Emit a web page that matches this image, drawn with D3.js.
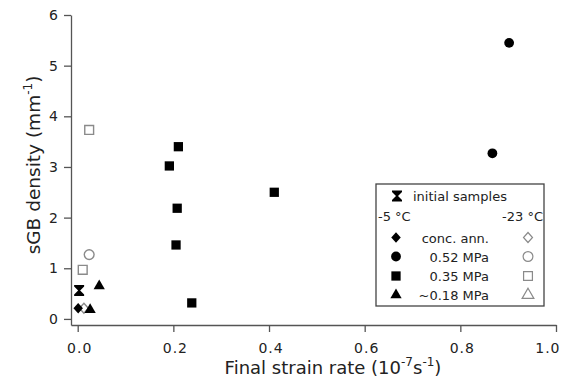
<!DOCTYPE html>
<html><head><meta charset="utf-8">
<script src="https://cdn.jsdelivr.net/npm/d3@7"></script>
<style>body{margin:0;background:#fff}svg{display:block}text{font-family:"DejaVu Sans",sans-serif;fill:#222}</style>
</head><body><svg id="c" width="567" height="381"></svg>
<script>
// data
const xTicks = [0.0, 0.2, 0.4, 0.6, 0.8, 1.0];
const yTicks = [0, 1, 2, 3, 4, 5, 6];
const initialX = [0.003], initialY = [0.56];
const concAnnWarmX = [0.001], concAnnWarmY = [0.21];
const concAnnColdX = [0.013], concAnnColdY = [0.21];
const mpa052WarmX = [0.902, 0.867], mpa052WarmY = [5.45, 3.27];
const mpa052ColdX = [0.024], mpa052ColdY = [1.27];
const mpa035WarmX = [0.2105, 0.1916, 0.411, 0.208, 0.2056, 0.2385];
const mpa035WarmY = [3.40, 3.02, 2.50, 2.185, 1.46, 0.316];
const mpa035ColdX = [0.024, 0.0105], mpa035ColdY = [3.73, 0.97];
const mpa018WarmX = [0.026, 0.045], mpa018WarmY = [0.18, 0.65];
const legendLabels = ["conc. ann.", "0.52 MPa", "0.35 MPa", "~0.18 MPa"];

const svg = d3.select("#c");
const x = d3.scaleLinear().domain([-0.014, 1.0]).range([71, 556]);
const y = d3.scaleLinear().domain([-0.12, 6]).range([325, 15]);
const axisColor = "#555";

const gx = svg.append("g").attr("transform", "translate(0,325)")
  .call(d3.axisBottom(x).tickValues(xTicks).tickFormat(d3.format(".1f")).tickSize(7).tickSizeOuter(0).tickPadding(11));
const gy = svg.append("g").attr("transform", "translate(71,0)")
  .call(d3.axisLeft(y).tickValues(yTicks).tickFormat(d3.format("d")).tickSize(7).tickSizeOuter(0).tickPadding(6));
[gx, gy].forEach(g => {
  g.selectAll("path,line").attr("stroke", axisColor).attr("stroke-width", 1.3);
  g.selectAll("text").attr("font-size", 14).attr("font-family", "DejaVu Sans").attr("fill", "#333");
});
gx.selectAll("text").attr("letter-spacing", 1).attr("dx", 1.5);
gx.selectAll(".tick").filter(d => d === 1.0).select("text").attr("text-anchor", "end").attr("dx", 4);

// axis titles
const xt = svg.append("text").attr("x", 333).attr("y", 374).attr("text-anchor", "middle").attr("font-size", 18);
xt.append("tspan").text("Final strain rate (10");
xt.append("tspan").attr("dy", -8).attr("font-size", 12).text("-7");
xt.append("tspan").attr("dy", 8).text("s");
xt.append("tspan").attr("dy", -8).attr("font-size", 12).text("-1");
xt.append("tspan").attr("dy", 8).text(")");

const yt = svg.append("text").attr("transform", "translate(40,165) rotate(-90)").attr("text-anchor", "middle").attr("font-size", 18.5);
yt.append("tspan").text("sGB density (mm");
yt.append("tspan").attr("dy", -8).attr("font-size", 12).text("-1");
yt.append("tspan").attr("dy", 8).text(")");

// symbols
function hourglass(s) {
  const w = s * 0.5, h = s * 0.55;
  return `M${-w},${-h}H${w}V${-h+1.5}L1,0L${w},${h-1.5}V${h}H${-w}V${h-1.5}L-1,0L${-w},${-h+1.5}Z`;
}
function diamondPath(w, h) {
  return `M0,${-h/2}L${w/2},0L0,${h/2}L${-w/2},0Z`;
}
const sym = {
  diamond: diamondPath(9.5, 10.5),
  circle: d3.symbol().type(d3.symbolCircle).size(75)(),
  square: d3.symbol().type(d3.symbolSquare).size(86)(),
  triangle: d3.symbol().type(d3.symbolTriangle).size(55)(),
  oDiamond: diamondPath(9, 10),
  oCircle: d3.symbol().type(d3.symbolCircle).size(75)(),
  oSquare: d3.symbol().type(d3.symbolSquare).size(78)(),
  oTriangle: d3.symbol().type(d3.symbolTriangle).size(60)(),
  hour: hourglass(10)
};
const openColor = "#8a8a8a";
function plot(xs, ys, path, filled) {
  svg.append("g").selectAll("path").data(xs.map((v, i) => [v, ys[i]])).join("path")
    .attr("d", path)
    .attr("transform", d => `translate(${x(d[0])},${y(d[1])})`)
    .attr("fill", filled ? "#000" : "none")
    .attr("stroke", filled ? "none" : openColor)
    .attr("stroke-width", filled ? 0 : 1.4);
}
plot(mpa035ColdX, mpa035ColdY, sym.oSquare, false);
plot(mpa052ColdX, mpa052ColdY, sym.oCircle, false);
plot(concAnnColdX, concAnnColdY, sym.oDiamond, false);
plot(initialX, initialY, sym.hour, true);
plot(concAnnWarmX, concAnnWarmY, sym.diamond, true);
plot(mpa018WarmX, mpa018WarmY, sym.triangle, true);
plot(mpa035WarmX, mpa035WarmY, sym.square, true);
plot(mpa052WarmX, mpa052WarmY, sym.circle, true);

// legend
const lg = svg.append("g");
lg.append("rect").attr("x", 376).attr("y", 184).attr("width", 168).attr("height", 122)
  .attr("fill", "#fff").attr("stroke", "#444").attr("stroke-width", 1.3);
lg.append("path").attr("d", sym.hour).attr("transform", "translate(397,196)").attr("fill", "#000");
lg.append("text").attr("x", 413).attr("y", 201).attr("font-size", 13).text("initial samples");
lg.append("text").attr("x", 378).attr("y", 221).attr("font-size", 13).text("-5 °C");
lg.append("text").attr("x", 543).attr("y", 221).attr("font-size", 13).attr("text-anchor", "end").text("-23 °C");
const rowY = [237.5, 256.5, 276, 295];
const filledSyms = [sym.diamond, sym.circle, sym.square, sym.triangle];
const openSyms = [sym.oDiamond, sym.oCircle, sym.oSquare, sym.oTriangle];
legendLabels.forEach((lab, i) => {
  lg.append("path").attr("d", filledSyms[i]).attr("transform", `translate(396,${rowY[i]})`).attr("fill", "#000");
  lg.append("path").attr("d", openSyms[i]).attr("transform", `translate(528,${rowY[i]})`)
    .attr("fill", "none").attr("stroke", openColor).attr("stroke-width", 1.2);
  lg.append("text").attr("x", 489).attr("y", rowY[i] + 5).attr("font-size", 13).attr("text-anchor", "end").text(lab);
});
</script></body></html>
